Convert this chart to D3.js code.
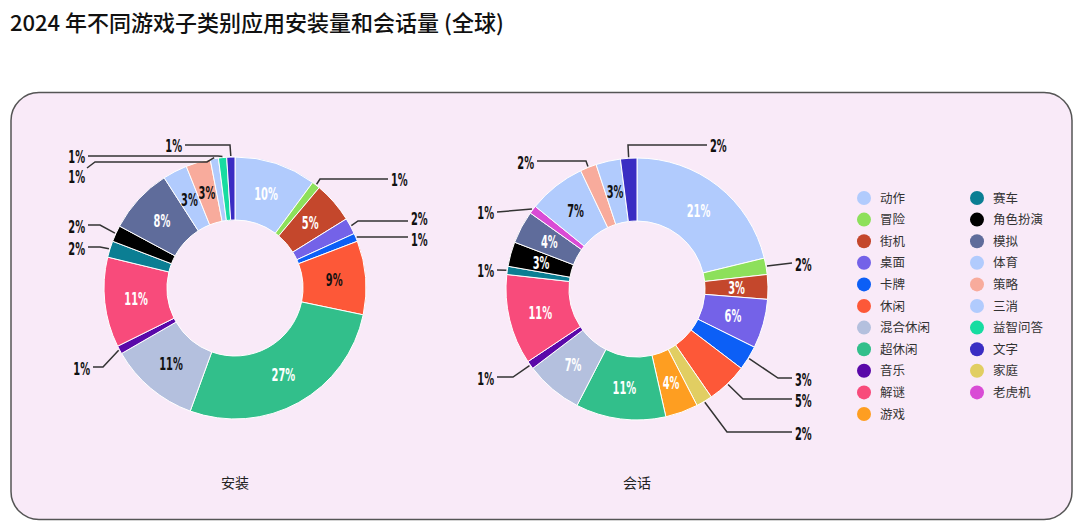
<!DOCTYPE html>
<html lang="zh">
<head>
<meta charset="UTF-8">
<title>2024 年不同游戏子类别应用安装量和会话量</title>
<script src="https://cdnjs.cloudflare.com/ajax/libs/d3/7.8.5/d3.min.js"></script>
<style>
  body { margin: 0; background: #fff; }
  svg text { font-family: "Noto Sans CJK SC", "Noto Sans", sans-serif; }
  .pct { font-family: "DejaVu Sans", sans-serif; font-weight: bold; font-size: 17px; }
</style>
</head>
<body>
<div id="chart"></div>
<script>
// slice order (clockwise from 12 o'clock)
const categories = ["动作", "冒险", "街机", "桌面", "卡牌", "休闲", "家庭", "游戏", "超休闲", "混合休闲",
  "音乐", "解谜", "赛车", "角色扮演", "模拟", "老虎机", "体育", "策略", "三消", "益智问答", "文字"];
const installs = [10, 1, 5, 2, 1, 9, 0, 0, 27, 11, 1, 11, 2, 2, 8, 0, 3, 3, 1, 1, 1];
const sessions = [21, 2, 3, 6, 3, 5, 2, 4, 11, 7, 1, 11, 1, 3, 4, 1, 7, 2, 3, 0, 2];

const legendCol1 = ["动作", "冒险", "街机", "桌面", "卡牌", "休闲", "混合休闲", "超休闲", "音乐", "解谜", "游戏"];
const legendCol2 = ["赛车", "角色扮演", "模拟", "体育", "策略", "三消", "益智问答", "文字", "家庭", "老虎机"];

const colors = {
  "动作": "#b1cbfd", "冒险": "#8de05b", "街机": "#c4472c", "桌面": "#7462e8", "卡牌": "#0c5ff6",
  "休闲": "#fd5838", "混合休闲": "#b4c0de", "超休闲": "#32bf8b", "音乐": "#5a08a9", "解谜": "#f84b7b",
  "游戏": "#fe9e21", "赛车": "#0b7e93", "角色扮演": "#000000", "模拟": "#5f6c9b", "体育": "#b1cbfd",
  "策略": "#f8ab9c", "三消": "#b1cbfd", "益智问答": "#17dca1", "文字": "#3a2dc3", "家庭": "#e1ce62",
  "老虎机": "#d94bd5"
};

// leader lines for small slices: bend points relative to donut centre, text position + anchor
const leftLeaders = {
  "文字":   { pts: [[-5, -143], [-50, -143]], t: [-53, -142, "end"] },
  "益智问答": { pts: [[-17, -132], [-147, -132]], t: [-150, -131, "end"] },
  "三消":   { pts: [[-28, -126], [-140, -126], [-148, -120]], t: [-150, -111, "end"] },
  "冒险":   { pts: [[85, -109], [153, -109]], t: [156, -108, "start"] },
  "桌面":   { pts: [[123, -67], [173, -67]], t: [176, -69, "start"] },
  "卡牌":   { pts: [[173, -51]], t: [176, -48, "start"] },
  "角色扮演": { pts: [[-135, -63], [-147, -63]], t: [-150, -61, "end"] },
  "赛车":   { pts: [[-135, -41], [-147, -41]], t: [-150, -39, "end"] },
  "音乐":   { pts: [[-132, 79], [-142, 79]], t: [-145, 81, "end"] }
};
const rightLeaders = {
  "文字":   { pts: [[-9, -144], [70, -144]], t: [73, -143, "start"] },
  "策略":   { pts: [[-51, -128], [-100, -128]], t: [-103, -126, "end"] },
  "老虎机": { pts: [[-140, -77]], t: [-143, -76, "end"] },
  "赛车":   { pts: [[-140, -19]], t: [-143, -18, "end"] },
  "音乐":   { pts: [[-124, 88], [-140, 88]], t: [-143, 90, "end"] },
  "冒险":   { pts: [[155, -26]], t: [158, -24, "start"] },
  "卡牌":   { pts: [[141, 89], [155, 89]], t: [158, 91, "start"] },
  "休闲":   { pts: [[106, 110], [155, 110]], t: [158, 112, "start"] },
  "家庭":   { pts: [[90, 143], [155, 143]], t: [158, 145, "start"] }
};
// inside labels drawn in black
const leftDark = ["休闲", "混合休闲", "体育", "策略"];
const rightDark = ["体育", "三消"];

const W = 1080, H = 531;
const svg = d3.select("#chart").append("svg")
  .attr("width", W).attr("height", H);

svg.append("text")
  .attr("x", 10).attr("y", 31)
  .attr("font-size", 22).attr("font-weight", 500).attr("fill", "#111")
  .text("2024 年不同游戏子类别应用安装量和会话量 (全球)");

svg.append("rect")
  .attr("x", 11).attr("y", 92.5).attr("width", 1061).attr("height", 427)
  .attr("rx", 28).attr("ry", 28)
  .attr("fill", "#f9eaf8").attr("stroke", "#555").attr("stroke-width", 1.5);

const rIn = 68, rOut = 131;
const arc = d3.arc().innerRadius(rIn).outerRadius(rOut);
const pie = d3.pie().sort(null).value(d => d.v);

function donut(cx, cy, values, leaders, darkKeys, title) {
  const data = categories.map((k, i) => ({ k, v: values[i] })).filter(d => d.v > 0);
  const g = svg.append("g").attr("transform", `translate(${cx},${cy})`);
  const arcs = pie(data);

  g.selectAll("path.slice").data(arcs).join("path")
    .attr("class", "slice")
    .attr("d", arc)
    .attr("fill", d => colors[d.data.k])
    .attr("stroke", "#fff").attr("stroke-width", 1);

  // inside labels
  g.selectAll("text.in").data(arcs.filter(d => !leaders[d.data.k])).join("text")
    .attr("class", "pct in")
    .attr("text-anchor", "middle")
    .attr("dy", "0.36em")
    .attr("transform", d => {
      const c = arc.centroid(d);
      return `translate(${c[0]},${c[1]}) scale(0.58,1)`;
    })
    .attr("fill", d => darkKeys.includes(d.data.k) ? "#111" : "#fff")
    .text(d => d.data.v + "%");

  // leader lines + outside labels
  const outs = arcs.filter(d => leaders[d.data.k]);
  const line = d3.line();
  outs.forEach(d => {
    const L = leaders[d.data.k];
    const a = (d.startAngle + d.endAngle) / 2;
    const start = [Math.sin(a) * (rOut + 1), -Math.cos(a) * (rOut + 1)];
    g.append("path")
      .attr("d", line([start, ...L.pts]))
      .attr("fill", "none").attr("stroke", "#333").attr("stroke-width", 1.5);
    g.append("text")
      .attr("class", "pct")
      .attr("text-anchor", L.t[2])
      .attr("dy", "0.36em")
      .attr("transform", `translate(${L.t[0]},${L.t[1]}) scale(0.58,1)`)
      .attr("fill", "#111")
      .text(d.data.v + "%");
  });

  svg.append("text")
    .attr("x", cx).attr("y", 488)
    .attr("text-anchor", "middle")
    .attr("font-size", 14).attr("fill", "#222")
    .text(title);
}

donut(235, 288, installs, leftLeaders, leftDark, "安装");
donut(637, 289, sessions, rightLeaders, rightDark, "会话");

// legend
const rowY = d3.scaleLinear().domain([0, 10]).range([198, 414]);
[[legendCol1, 864], [legendCol2, 977]].forEach(([items, x]) => {
  const lg = svg.append("g");
  const row = lg.selectAll("g").data(items).join("g")
    .attr("transform", (d, i) => `translate(${x},${rowY(i)})`);
  row.append("circle").attr("r", 7).attr("fill", d => colors[d]);
  row.append("text").attr("x", 16).attr("dy", "0.36em")
    .attr("font-size", 12.5).attr("fill", "#333").text(d => d);
});
</script>
</body>
</html>
